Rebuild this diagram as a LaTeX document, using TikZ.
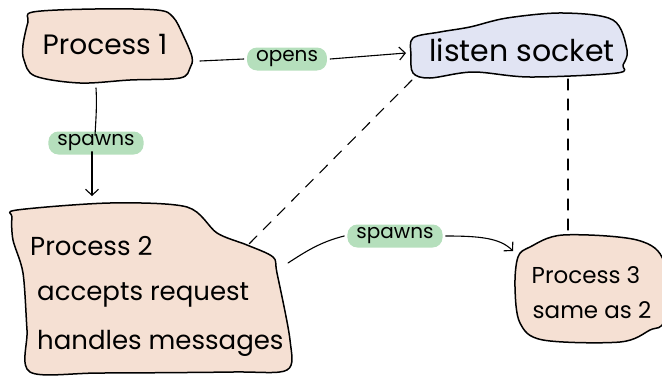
\documentclass[tikz,border=0pt]{standalone}
\usepackage{fontspec}
\setmainfont{Poppins}
\usetikzlibrary{arrows.meta}
\definecolor{peach}{HTML}{F5E0D3}
\definecolor{lav}{HTML}{E1E4F3}
\definecolor{pillgreen}{HTML}{B5DFBC}
\tikzset{
  blob/.style={draw=black, line width=1.5pt, line join=round},
  conn/.style={draw=black, line width=1.1pt, line cap=round},
  arr/.style={conn, -{Straight Barb[length=6pt,width=13pt,line width=1.1pt]}},
  dashconn/.style={conn, dash pattern=on 11pt off 9pt},
  pilltag/.style={fill=pillgreen, rounded corners=10pt, inner xsep=9pt, inner ysep=0pt, minimum height=23pt, font=\fontsize{20}{22}\selectfont},
  bigtext/.style={font=\fontsize{28}{32}\selectfont, inner sep=0pt},
  midtext/.style={font=\fontsize{26}{30}\selectfont, inner sep=0pt, anchor=west},
  smalltext/.style={font=\fontsize{23}{26}\selectfont, inner sep=0pt},
}
\begin{document}
\begin{tikzpicture}[x=1pt,y=-1pt]
\useasboundingbox (0,0) rectangle (662,378);
% Process 1 blob
\draw[blob, fill=peach] plot[smooth cycle, tension=0.55] coordinates {(33,12) (95,9) (157,10) (173,17) (183,35) (192,57) (190,68) (180,78) (130,80) (80,83) (35,76) (24,60) (23,45) (28,22)};
% listen socket blob
\draw[blob, fill=lav] plot[smooth cycle, tension=0.55] coordinates {(413,38) (440,32) (470,27) (507,18) (563,13) (613,20) (627,50) (623,65) (617,73) (530,77) (473,72) (430,78) (413,73) (411,55)};
% Process 2 blob
\draw[blob, fill=peach] plot[smooth cycle, tension=0.5] coordinates {(17,210) (110,203) (187,207) (217,233) (247,245) (273,257) (277,273) (290,340) (287,370) (233,372) (100,373) (30,372) (27,330) (23,273) (13,240) (12,217)};
% Process 3 blob
\draw[blob, fill=peach] plot[smooth cycle, tension=0.55] coordinates {(530,247) (563,235) (637,240) (664,262) (664,320) (650,330) (620,342) (543,340) (520,323) (515,287) (518,257)};

% texts
\node[bigtext] (p1) at (105,45) {Process 1};
\node[font=\fontsize{30}{34}\selectfont, inner sep=0pt] (ls) at (522,50) {listen socket};
\node[midtext] (p2a) at (30,246) {Process 2};
\node[midtext] (p2b) at (37,295) {accepts request};
\node[midtext] (p2c) at (37,343) {handles messages};
\node[smalltext] (p3a) at (586,275) {Process 3};
\node[smalltext] (p3b) at (592,310) {same as 2};

% anchor points on the blobs
\coordinate (p1e) at (200,61);
\coordinate (p1s) at (96,88);
\coordinate (lsw) at (406,53);
\coordinate (lssw) at (412,80);
\coordinate (lss) at (568,79);
\coordinate (p2n) at (92,196);
\coordinate (p2ne) at (247,246);
\coordinate (p2e) at (288,263);
\coordinate (p3w) at (513,251);
\coordinate (p3n) at (568,233);

% labels
\node[pilltag] (opens) at (287,59) {opens};
\node[pilltag] (sp1) at (96,143) {spawns};
\node[pilltag] (sp2) at (395,236) {spawns};

% connectors
\draw[conn] (p1e) -- ([xshift=-3pt]opens.west);
\draw[arr] ([xshift=3pt]opens.east) -- (lsw);
\draw[conn] (p1s) .. controls (97,105) and (96,118) .. ([yshift=-4pt]sp1.north -| 95,0);
\draw[arr] ([yshift=3pt]sp1.south -| 92,0) -- (p2n);
\draw[conn] (p2e) .. controls (305,252) and (320,242) .. ([xshift=-3pt]sp2.west);
\draw[arr] ([xshift=3pt]sp2.east) .. controls (480,236) and (500,238) .. (p3w);
\draw[dashconn] (lssw) -- (p2ne);
\draw[dashconn] (lss) -- (p3n);
\end{tikzpicture}
\end{document}
